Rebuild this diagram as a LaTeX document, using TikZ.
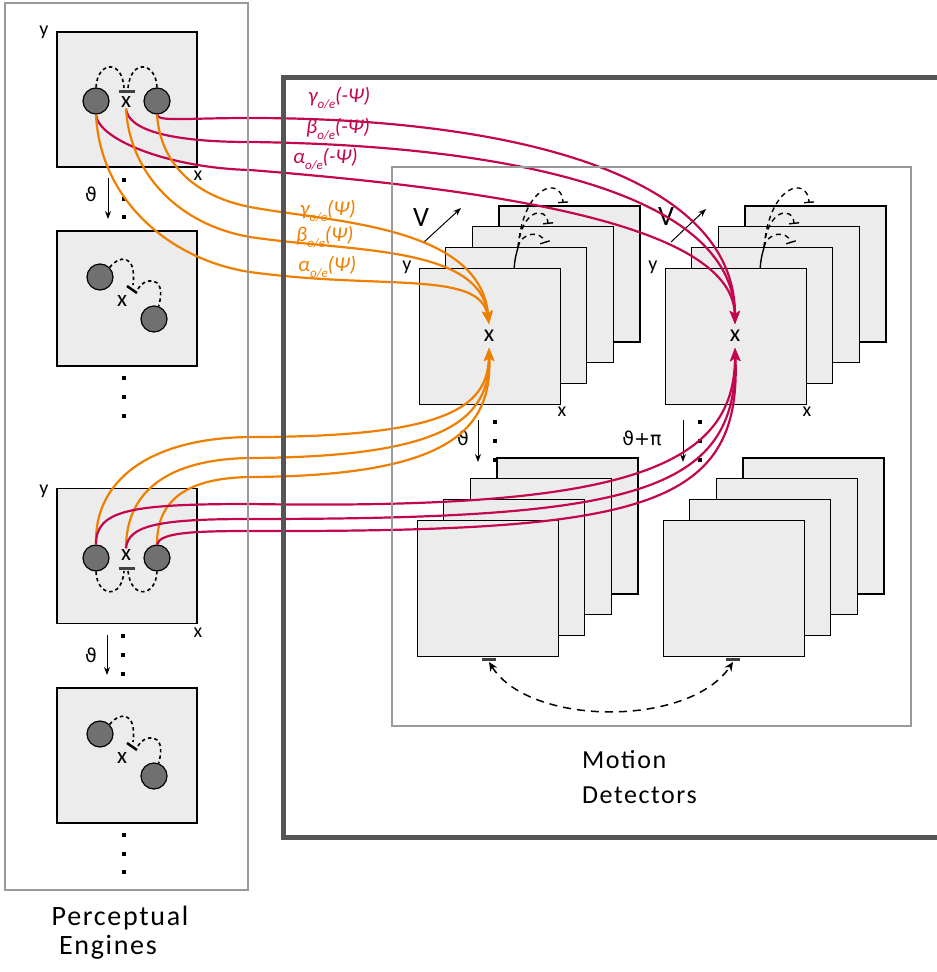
\documentclass[tikz,border=0pt]{standalone}
\usepackage{fontspec}
\setmainfont{Carlito}
\newfontfamily\symfont{DejaVu Sans}
\newfontfamily\spacedfont[LetterSpace=6]{Carlito}
\usetikzlibrary{arrows.meta}

\definecolor{pfill}{HTML}{ECECEC}
\definecolor{blobgray}{HTML}{707070}
\definecolor{fwd}{HTML}{EE7F00}
\definecolor{bwd}{HTML}{C3074F}
\definecolor{framegray}{HTML}{9A9A9A}
\definecolor{thickgray}{HTML}{555555}

% a stack of four detector maps, front map named #1 with top-left corner (#2,#3)
\newcommand\mdstack[3]{%
  \foreach \k in {3,2,1}{\draw[panel] ({#2+26.7*\k},{#3-20.7*\k}) rectangle ++(141,136);}
  \node[panel,anchor=north west,minimum width=141pt,minimum height=136pt,inner sep=0pt] (#1) at (#2,#3) {};}

% recurrent inhibition from the front map to the maps behind it
\newcommand\recurrent[1]{%
  \begin{scope}[shift={(#1)}]
    \draw[line width=1.4pt] (0,0) .. controls (1,-10) .. (4,-21);
    \draw[recdash] (4,-21) .. controls (7,-36) and (27,-38) .. (31,-25);
    \draw[recdash] (4,-21) .. controls (7,-58) and (32,-63) .. (34,-44);
    \draw[recdash] (4,-21) .. controls (9,-83) and (47,-93) .. (49,-65);
  \end{scope}}

\newcommand\wlab[2]{#1\raisebox{-6pt}{\fontsize{13}{13}\selectfont o/e}#2}

\begin{document}
\begin{tikzpicture}[x=1pt,y=-1pt,
  panel/.style={draw=black,line width=1.3pt,fill=pfill},
  engine/.style={panel,minimum width=140pt,minimum height=135pt,inner sep=0pt},
  blob/.style={circle,draw=black,line width=1.2pt,fill=blobgray,minimum size=26pt,inner sep=0pt},
  axislab/.style={font=\fontsize{20}{20}\selectfont,inner sep=0pt},
  centrex/.style={font=\fontsize{23}{23}\selectfont,inner sep=1pt},
  target/.style={font=\fontsize{24}{24}\selectfont,inner sep=6pt},
  vlab/.style={font=\fontsize{28}{28}\selectfont,inner sep=0pt},
  thlab/.style={font=\symfont\fontsize{19}{19}\selectfont,inner sep=0pt},
  weight/.style={font=\fontsize{21}{21}\selectfont\itshape,inner sep=0pt,anchor=west},
  caption/.style={font=\spacedfont,inner sep=0pt},
  dotmark/.style={rectangle,fill=black,minimum size=3.5pt,inner sep=0pt},
  loopdash/.style={line width=1.6pt,dash pattern=on 3.5pt off 3pt},
  recdash/.style={line width=1.4pt,dash pattern=on 5pt off 4pt,-{Bar[width=10pt,line width=1.4pt]}},
  xbar/.style={line width=3pt,draw=black!75},
  flow/.style={line width=1pt,-{Stealth[length=8pt,width=6pt]}},
  fwdline/.style={draw=fwd,line width=2.2pt,-{Stealth[length=13pt,width=10pt,inset=3pt]}},
  bwdline/.style={draw=bwd,line width=2.2pt,-{Stealth[length=13pt,width=10pt,inset=3pt]}},
  framebox/.style={draw=framegray,line width=1.5pt},
  thickbox/.style={draw=thickgray,line width=5pt}]

\useasboundingbox (0,0) rectangle (937,972);
\clip (0,0) rectangle (937,972);

% ---------------- perceptual engines ----------------
% engine 1
\node[engine] (e1) at (127,99.5) {};
\node[blob] (e1l) at (96,101) {};
\node[blob] (e1r) at (157,101) {};
\node[centrex] (e1x) at (126,102) {x};
\draw[xbar] (119,91) -- (135,91);
\draw[loopdash] (e1l.north) .. controls (97,62) and (122,58) .. (124,88);
\draw[loopdash] (128,88) .. controls (131,58) and (156,62) .. (e1r.north);
\node[axislab] (e1y) at (44,32) {y};
\node[axislab] (e1xa) at (198,176) {x};

% rotation step
\node[thlab] (th1) at (91,194) {ϑ};
\coordinate (th1a) at (108,178);
\coordinate (th1b) at (108,219);
\draw[flow] (th1a) -- (th1b);
\node[dotmark] (d11) at (124,180) {};
\node[dotmark] (d12) at (124,199) {};
\node[dotmark] (d13) at (124,217) {};

% engine 2
\node[engine] (e2) at (127,298.5) {};
\node[blob] (e2l) at (100,277) {};
\node[blob] (e2r) at (154,319) {};
\node[centrex] (e2x) at (122,301) {x};
\draw[line width=2.5pt] (127,286) -- (137,293);
\draw[loopdash] (e2l.north east) .. controls (118,256) and (137,252) .. (133,285);
\draw[loopdash] (138,289) .. controls (142,279) and (168,272) .. (e2r.70);
\node[dotmark] (d21) at (124,378) {};
\node[dotmark] (d22) at (124,397) {};
\node[dotmark] (d23) at (124,416) {};

% engine 3
\node[engine] (e3) at (127,556) {};
\node[blob] (e3l) at (96,558) {};
\node[blob] (e3r) at (157,558) {};
\node[centrex] (e3x) at (126,555) {x};
\draw[xbar] (119,568) -- (135,568);
\draw[loopdash] (e3l.south) .. controls (97,597) and (122,600) .. (124,571);
\draw[loopdash] (128,571) .. controls (131,600) and (156,597) .. (e3r.south);
\node[axislab] (e3y) at (44,491) {y};
\node[axislab] (e3xa) at (198,633) {x};

\node[thlab] (th2) at (91,655) {ϑ};
\coordinate (th2a) at (107,635);
\coordinate (th2b) at (107,675);
\draw[flow] (th2a) -- (th2b);
\node[dotmark] (d31) at (123,636) {};
\node[dotmark] (d32) at (123,655) {};
\node[dotmark] (d33) at (123,674) {};

% engine 4
\node[engine] (e4) at (127,755.5) {};
\node[blob] (e4l) at (100,734) {};
\node[blob] (e4r) at (154,776) {};
\node[centrex] (e4x) at (122,758) {x};
\draw[line width=2.5pt] (127,743) -- (137,750);
\draw[loopdash] (e4l.north east) .. controls (118,713) and (137,709) .. (133,742);
\draw[loopdash] (138,746) .. controls (142,736) and (168,729) .. (e4r.70);
\node[dotmark] (d41) at (124,835) {};
\node[dotmark] (d42) at (124,854) {};
\node[dotmark] (d43) at (124,872) {};

\node[caption,font=\spacedfont\fontsize{28}{28}\selectfont] (peA) at (120,918) {Perceptual};
\node[caption,font=\spacedfont\fontsize{28}{28}\selectfont] (peB) at (108,947) {Engines};

% ---------------- motion detectors ----------------
\mdstack{s1}{419}{268}
\mdstack{s2}{665}{268}
\mdstack{s3}{417}{520}
\mdstack{s4}{663}{520}

\coordinate (r1) at ([xshift=24pt]s1.north);
\coordinate (r2) at ([xshift=24pt]s2.north);
\recurrent{r1}
\recurrent{r2}

\node[target] (tx1) at (489,336) {x};
\node[target] (tx2) at (735,336) {x};
\node[axislab] (s1y) at (407,267) {y};
\node[axislab] (s1x) at (562,412) {x};
\node[axislab] (s2y) at (653,267) {y};
\node[axislab] (s2x) at (807,412) {x};

% velocity directions
\node[vlab] (v1) at (421,218) {V};
\coordinate (v1a) at (423,243);
\coordinate (v1b) at (461,208);
\draw[flow] (v1a) -- (v1b);
\node[vlab] (v2) at (666,217) {V};
\coordinate (v2a) at (671,242);
\coordinate (v2b) at (706,209);
\draw[flow] (v2a) -- (v2b);

% orientation steps
\node[thlab] (th3) at (463,438) {ϑ};
\coordinate (th3a) at (478,420);
\coordinate (th3b) at (478,462);
\draw[flow] (th3a) -- (th3b);
\node[dotmark] (d51) at (495,422) {};
\node[dotmark] (d52) at (495,441) {};
\node[dotmark] (d53) at (495,460) {};
\node[thlab] (th4) at (642,438) {ϑ+π};
\coordinate (th4a) at (683,420);
\coordinate (th4b) at (683,462);
\draw[flow] (th4a) -- (th4b);
\node[dotmark] (d61) at (700,422) {};
\node[dotmark] (d62) at (700,441) {};
\node[dotmark] (d63) at (700,460) {};

% mutual inhibition between opposite directions
\coordinate (b1) at (489,662);
\coordinate (b2) at (733,662);
\draw[line width=1.5pt,dash pattern=on 8pt off 6pt,{Stealth[length=9pt,width=8pt]}-{Stealth[length=9pt,width=8pt]}] (b1) .. controls (530,727) and (690,727) .. (b2);
\draw[xbar] (482,659) -- (496,659);
\draw[xbar] (726,659) -- (740,659);

\node[caption,font=\spacedfont\fontsize{26}{26}\selectfont,anchor=west] (mdA) at (582,760) {Motion};
\node[caption,font=\spacedfont\fontsize{26}{26}\selectfont,anchor=west] (mdB) at (582,795) {Detectors};

% ---------------- projections ----------------
% engine 1 -> backward detector
\draw[bwdline] (e1r.south) .. controls (158,122) and (185,118) .. (250,118) .. controls (500,118) and (735,170) .. (tx2.north);
\draw[bwdline] (e1x.south) .. controls (128,130) and (170,142) .. (250,142) .. controls (500,145) and (733,190) .. (tx2.north);
\draw[bwdline] (e1l.south) .. controls (98,140) and (170,168) .. (250,170) .. controls (500,190) and (733,225) .. (tx2.north);
% engine 1 -> forward detector
\draw[fwdline] (e1r.south) .. controls (160,160) and (190,195) .. (250,207) .. controls (330,222) and (480,225) .. (tx1.north);
\draw[fwdline] (e1x.south) .. controls (130,175) and (180,225) .. (250,237) .. controls (350,252) and (480,245) .. (tx1.north);
\draw[fwdline] (e1l.south) .. controls (100,200) and (170,260) .. (250,272) .. controls (380,290) and (480,270) .. (tx1.north);
% engine 3 -> forward detector
\draw[fwdline] (e3l.north) .. controls (94,480) and (150,438) .. (250,437) .. controls (440,437) and (488,410) .. (tx1.south);
\draw[fwdline] (e3x.north) .. controls (126,490) and (170,459) .. (250,458) .. controls (445,457) and (490,420) .. (tx1.south);
\draw[fwdline] (e3r.north) .. controls (157,505) and (180,478) .. (250,477) .. controls (450,476) and (492,430) .. (tx1.south);
% engine 3 -> backward detector
\draw[bwdline] (e3l.north) .. controls (96,510) and (130,504) .. (250,504) .. controls (620,510) and (735,470) .. (tx2.south);
\draw[bwdline] (e3x.north) .. controls (128,525) and (160,519) .. (250,519) .. controls (630,519) and (738,495) .. (tx2.south);
\draw[bwdline] (e3r.north) .. controls (160,533) and (190,531) .. (250,531) .. controls (640,532) and (742,510) .. (tx2.south);

% weight labels
\node[weight,text=bwd] (wg1) at (308,98) {\wlab{γ}{(-Ψ)}};
\node[weight,text=bwd] (wb1) at (306,129) {\wlab{β}{(-Ψ)}};
\node[weight,text=bwd] (wa1) at (293,159) {\wlab{α}{(-Ψ)}};
\node[weight,text=fwd] (wg2) at (300,211) {\wlab{γ}{(Ψ)}};
\node[weight,text=fwd] (wb2) at (296,237) {\wlab{β}{(Ψ)}};
\node[weight,text=fwd] (wa2) at (298,267) {\wlab{α}{(Ψ)}};

% ---------------- frames ----------------
\draw[framebox] (5,3) rectangle (248,890);
\draw[framebox] (392,167) rectangle (911,726);
\draw[thickbox] (283,77) rectangle (960,837);
\end{tikzpicture}
\end{document}
